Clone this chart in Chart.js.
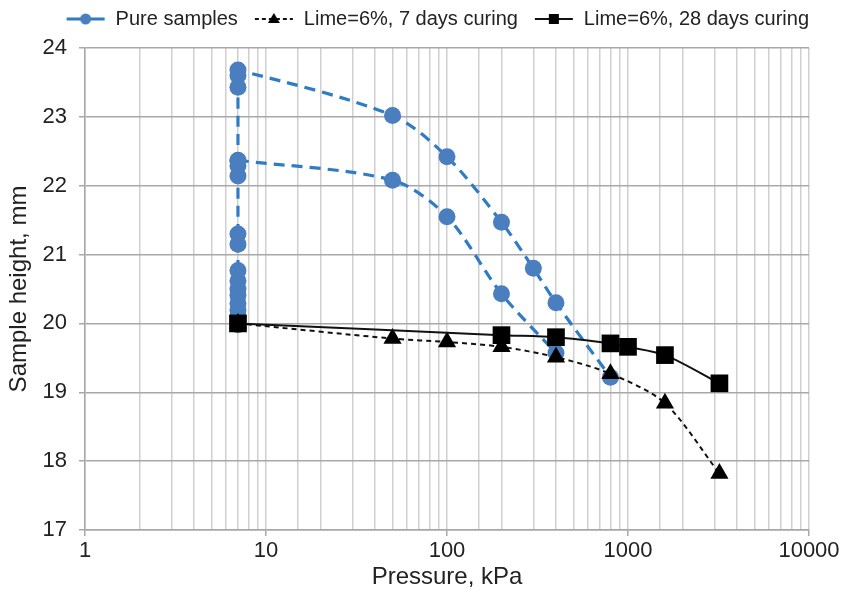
<!DOCTYPE html>
<html>
<head>
    <title>Sample height vs pressure</title>
    <script src="https://cdn.jsdelivr.net/npm/chart.js@4/dist/chart.umd.min.js"></script>
    <style>
        html, body {
            margin: 0;
            padding: 0;
            background: #ffffff;
        }

        .chart {
            width: 842px;
            height: 592px;
        }
    </style>
</head>
<body>
<div class="chart">
    <canvas id="chart"></canvas>
</div>

<script>
    // pure samples, sample 1: swelling at 7 kPa, then loading
    const pure1Pressure = [7, 7, 7, 7, 7, 7, 7, 7, 7, 7, 7, 7, 7, 7, 7, 7, 50, 100, 200, 300, 400, 800];
    const pure1Height = [19.98, 20.1, 20.19, 20.29, 20.41, 20.5, 20.62, 20.77, 21.15, 21.3, 22.14, 22.29, 22.36, 23.43, 23.6, 23.68, 23.02, 22.42, 21.47, 20.8, 20.3, 19.22];
    // pure samples, sample 2
    const pure2Pressure = [7, 50, 100, 200, 400];
    const pure2Height = [22.37, 22.08, 21.55, 20.43, 19.57];

    const lime7Pressure = [7, 50, 100, 200, 400, 800, 1600, 3200];
    const lime7Height = [20.0, 19.78, 19.73, 19.66, 19.51, 19.27, 18.84, 17.82];

    const lime28Pressure = [7, 200, 400, 800, 1000, 1600, 3200];
    const lime28Height = [20.0, 19.83, 19.8, 19.71, 19.66, 19.54, 19.13];

    const xTickLabels = [1, 10, 100, 1000, 10000];
    const yTicks = [17, 18, 19, 20, 21, 22, 23, 24];

    const BLUE_LINE = '#2f7cc4';
    const BLUE_DOT = '#4a7ebf';
    const FONT = "'Liberation Sans', Arial, sans-serif";

    function toPoints(xs, ys) {
        return xs.map((x, i) => ({x: x, y: ys[i]}));
    }

    // little line + marker icon for the legend (16px blank lead-in = gap between items)
    const ICON_W = 56;
    const LEAD = 16;

    function legendIcon(color, dash, width, drawMarker) {
        const c = document.createElement('canvas');
        c.width = ICON_W;
        c.height = 18;
        const g = c.getContext('2d');
        g.strokeStyle = color;
        g.lineWidth = width;
        g.setLineDash(dash);
        g.beginPath();
        g.moveTo(LEAD + 1, 9);
        g.lineTo(ICON_W - 1, 9);
        g.stroke();
        g.setLineDash([]);
        drawMarker(g, LEAD + (ICON_W - LEAD) / 2);
        return c;
    }

    const iconPure = legendIcon(BLUE_LINE, [], 3, (g, cx) => {
        g.fillStyle = BLUE_DOT;
        g.beginPath();
        g.arc(cx, 9, 5.5, 0, Math.PI * 2);
        g.fill();
    });
    const iconLime7 = legendIcon('#111', [4, 3], 2, (g, cx) => {
        g.fillStyle = '#000';
        g.beginPath();
        g.moveTo(cx, 3);
        g.lineTo(cx + 6, 13);
        g.lineTo(cx - 6, 13);
        g.closePath();
        g.fill();
    });
    const iconLime28 = legendIcon('#111', [], 2, (g, cx) => {
        g.fillStyle = '#000';
        g.fillRect(cx - 5, 4, 10, 10);
    });

    // push the plot area down a bit below the legend
    const legendMargin = {
        id: 'legendMargin',
        beforeInit(ch) {
            const fit = ch.legend.fit;
            ch.legend.fit = function () {
                fit.bind(ch.legend)();
                this.height += 9;
            };
        }
    };

    const ctx = document.getElementById('chart').getContext('2d');
    const chart = new Chart(ctx, {
        type: 'line',
        plugins: [legendMargin],
        data: {
            datasets: [{
                label: 'Pure samples',
                data: toPoints(pure1Pressure, pure1Height),
                borderColor: BLUE_LINE,
                backgroundColor: BLUE_DOT,
                borderWidth: 3.2,
                borderDash: [11, 7],
                pointStyle: 'circle',
                pointRadius: 8.5,
                pointBorderWidth: 0,
                tension: 0.3,
                order: 3
            }, {
                label: 'Pure samples 2',
                data: toPoints(pure2Pressure, pure2Height),
                borderColor: BLUE_LINE,
                backgroundColor: BLUE_DOT,
                borderWidth: 3.2,
                borderDash: [11, 7],
                pointStyle: 'circle',
                pointRadius: 8.5,
                pointBorderWidth: 0,
                tension: 0.3,
                order: 3
            }, {
                label: 'Lime=6%, 7 days curing',
                data: toPoints(lime7Pressure, lime7Height),
                borderColor: '#111111',
                backgroundColor: '#000000',
                borderWidth: 2,
                borderDash: [5, 4],
                pointStyle: 'triangle',
                pointRadius: 10.5,
                pointBorderWidth: 0,
                tension: 0.3,
                order: 2
            }, {
                label: 'Lime=6%, 28 days curing',
                data: toPoints(lime28Pressure, lime28Height),
                borderColor: '#111111',
                backgroundColor: '#000000',
                borderWidth: 2,
                pointStyle: 'rect',
                pointRadius: 12.5,
                pointBorderWidth: 0,
                tension: 0.3,
                order: 1
            }]
        },
        options: {
            responsive: true,
            maintainAspectRatio: false,
            animation: false,
            layout: {
                padding: {left: 5, right: 33, top: 9, bottom: 0}
            },
            plugins: {
                tooltip: {enabled: false},
                legend: {
                    display: true,
                    position: 'top',
                    align: 'end',
                    labels: {
                        color: '#222',
                        font: {family: FONT, size: 20},
                        usePointStyle: true,
                        pointStyleWidth: ICON_W,
                        boxHeight: 18,
                        padding: 0,
                        generateLabels: function (ch) {
                            const icons = [iconPure, null, iconLime7, iconLime28];
                            return ch.data.datasets.map((ds, i) => ({
                                text: ds.label,
                                pointStyle: icons[i],
                                fillStyle: 'transparent',
                                strokeStyle: 'transparent',
                                lineWidth: 0,
                                fontColor: '#222',
                                datasetIndex: i
                            })).filter(item => item.datasetIndex !== 1);
                        }
                    }
                }
            },
            scales: {
                x: {
                    type: 'logarithmic',
                    min: 1,
                    max: 10000,
                    afterFit: function (s) {
                        s.height = 62;
                    },
                    border: {color: '#a8a8a8', width: 1.5},
                    grid: {
                        color: '#cfcfcf',
                        lineWidth: 1.5,
                        tickLength: 6,
                        tickColor: c => xTickLabels.includes(c.tick.value) ? '#a8a8a8' : 'rgba(0,0,0,0)'
                    },
                    ticks: {
                        autoSkip: false,
                        maxRotation: 0,
                        color: '#222',
                        font: {family: FONT, size: 22},
                        padding: 2,
                        callback: function (value) {
                            return xTickLabels.includes(value) ? String(value) : '';
                        }
                    },
                    title: {
                        display: true,
                        text: 'Pressure, kPa',
                        color: '#222',
                        font: {family: FONT, size: 24},
                        padding: {top: 0, bottom: 0}
                    }
                },
                y: {
                    min: 17,
                    max: 24,
                    afterFit: function (s) {
                        s.width = 80;
                    },
                    afterBuildTicks: function (s) {
                        s.ticks = yTicks.map(v => ({value: v}));
                    },
                    border: {color: '#a8a8a8', width: 1.5},
                    grid: {
                        color: '#a8a8a8',
                        lineWidth: 1.5,
                        tickLength: 6
                    },
                    ticks: {
                        color: '#222',
                        font: {family: FONT, size: 22},
                        padding: 12
                    },
                    title: {
                        display: true,
                        text: 'Sample height, mm',
                        color: '#222',
                        font: {family: FONT, size: 24},
                        padding: {top: 0, bottom: 0}
                    }
                }
            }
        }
    });
</script>
</body>
</html>
